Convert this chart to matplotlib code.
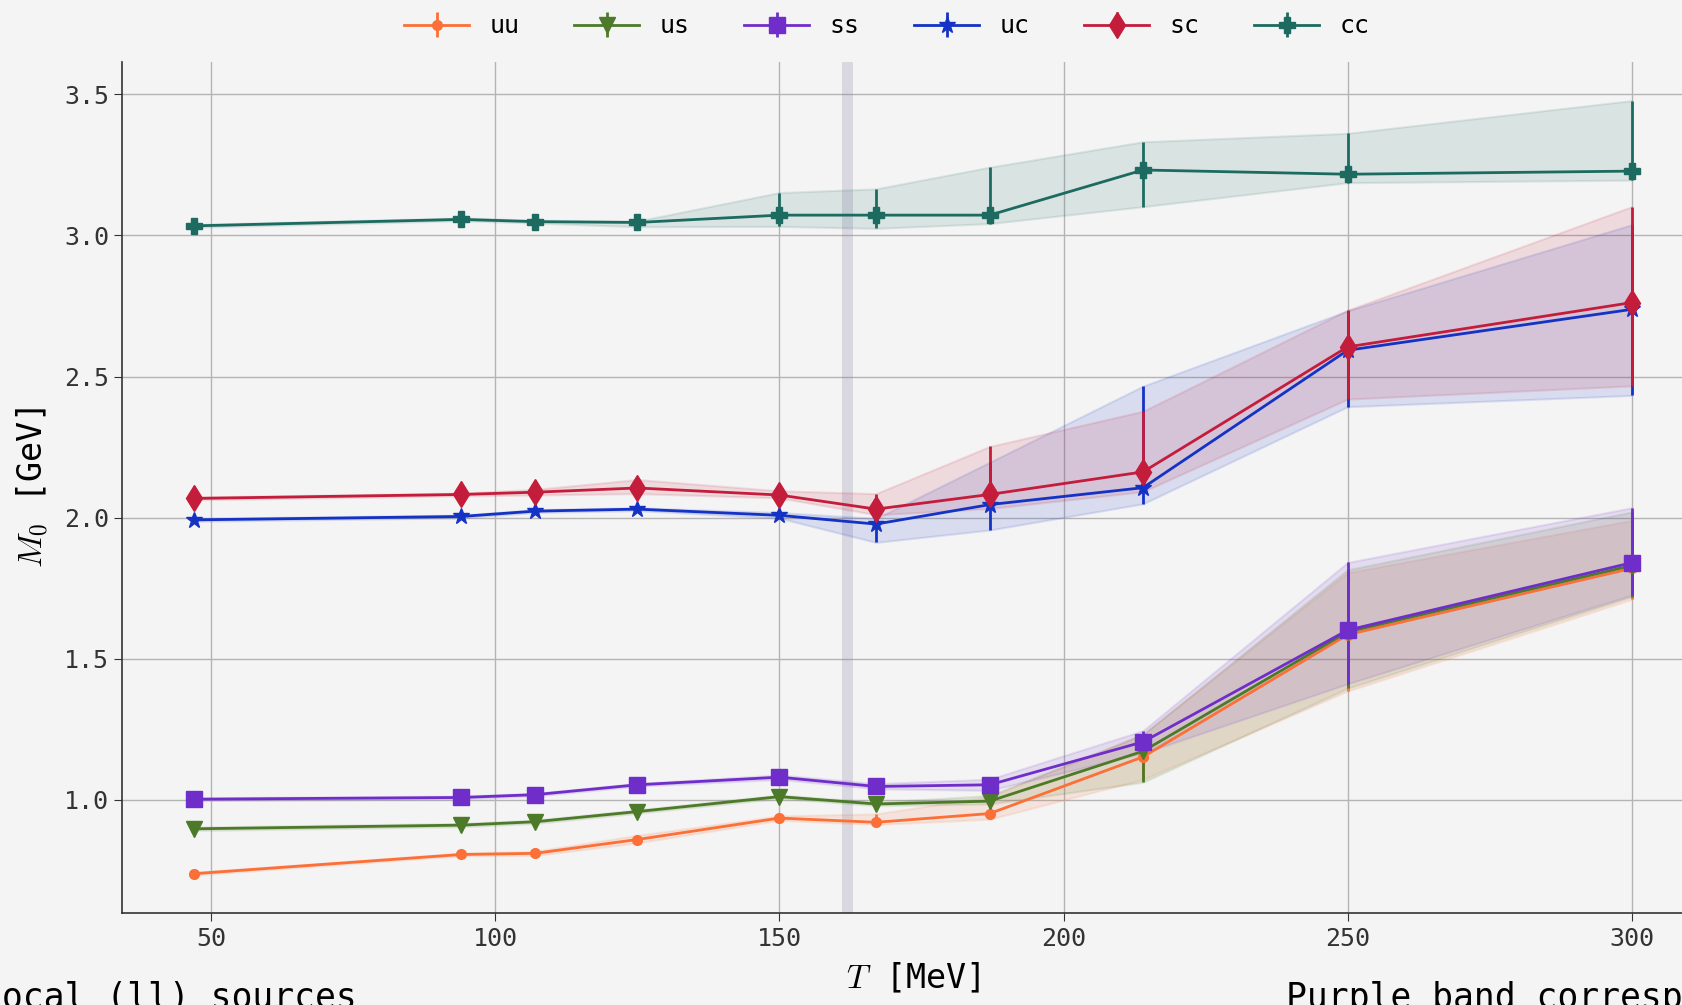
import numpy as np
import matplotlib.pyplot as plt

plt.rcParams['font.family'] = ['DejaVu Sans Mono']
plt.rcParams['mathtext.fontset'] = 'cm'

T = np.array([47, 94, 107, 125, 150, 167, 187, 214, 250, 300])

uu = np.array([0.738, 0.806, 0.810, 0.859, 0.935, 0.920, 0.951, 1.152, 1.585, 1.820])
uu_lo = np.array([0.005, 0.005, 0.008, 0.012, 0.008, 0.008, 0.02, 0.08, 0.20, 0.11])
uu_hi = np.array([0.005, 0.005, 0.008, 0.015, 0.008, 0.03, 0.06, 0.08, 0.22, 0.17])

us = np.array([0.897, 0.910, 0.922, 0.958, 1.011, 0.985, 0.995, 1.172, 1.595, 1.830])
us_lo = np.array([0.006, 0.006, 0.006, 0.006, 0.006, 0.006, 0.01, 0.11, 0.20, 0.11])
us_hi = np.array([0.006, 0.006, 0.006, 0.006, 0.006, 0.006, 0.02, 0.06, 0.22, 0.19])

ss = np.array([1.002, 1.008, 1.018, 1.053, 1.080, 1.047, 1.053, 1.205, 1.601, 1.840])
ss_lo = np.array([0.005, 0.005, 0.005, 0.005, 0.008, 0.008, 0.02, 0.04, 0.19, 0.115])
ss_hi = np.array([0.005, 0.005, 0.005, 0.005, 0.008, 0.01, 0.02, 0.04, 0.24, 0.195])

uc = np.array([1.992, 2.004, 2.023, 2.030, 2.008, 1.977, 2.046, 2.106, 2.593, 2.738])
uc_lo = np.array([0.005, 0.005, 0.005, 0.005, 0.01, 0.065, 0.09, 0.057, 0.20, 0.305])
uc_hi = np.array([0.005, 0.005, 0.005, 0.005, 0.01, 0.02, 0.15, 0.36, 0.14, 0.30])

sc = np.array([2.068, 2.082, 2.090, 2.105, 2.080, 2.030, 2.082, 2.162, 2.605, 2.762])
sc_lo = np.array([0.005, 0.005, 0.01, 0.02, 0.01, 0.02, 0.05, 0.07, 0.185, 0.295])
sc_hi = np.array([0.005, 0.005, 0.01, 0.03, 0.015, 0.055, 0.17, 0.215, 0.13, 0.34])

cc = np.array([3.034, 3.057, 3.049, 3.046, 3.072, 3.072, 3.072, 3.232, 3.217, 3.228])
cc_lo = np.array([0.005, 0.005, 0.005, 0.015, 0.04, 0.047, 0.03, 0.13, 0.03, 0.032])
cc_hi = np.array([0.005, 0.005, 0.005, 0.005, 0.08, 0.093, 0.17, 0.10, 0.145, 0.25])

series = [
    ('uu', uu, uu_lo, uu_hi, '#fc6f36', 'o', 7),
    ('us', us, us_lo, us_hi, '#4c7a29', 'v', 12),
    ('ss', ss, ss_lo, ss_hi, '#6f2ec9', 's', 11),
    ('uc', uc, uc_lo, uc_hi, '#1432c4', '*', 12),
    ('sc', sc, sc_lo, sc_hi, '#c41c3b', 'd', 13),
    ('cc', cc, cc_lo, cc_hi, '#1d6b60', 'P', 11),
]

bg = '#f4f4f4'
fig = plt.figure(figsize=(16.83, 10.05), dpi=100, facecolor=bg)
ax = fig.add_axes([0.0727, 0.0911, 0.9395, 0.847])
ax.set_facecolor(bg)

# band around the pseudo-critical temperature
ax.axvspan(161, 163, color='#8a82a6', alpha=0.25, lw=0, zorder=1)

handles = []
for name, y, lo, hi, c, m, ms in series:
    ax.fill_between(T, y - lo, y + hi, color=c, alpha=0.12, lw=1.5, zorder=2)
    h = ax.errorbar(T, y, yerr=[lo, hi], color=c, marker=m, markersize=ms,
                    linewidth=2, elinewidth=2, capsize=0, label=name, zorder=3)
    handles.append(h)

ax.set_xlim(34.35, 312.65)
ax.set_ylim(0.597, 3.614)
ax.set_xticks([50, 100, 150, 200, 250, 300])
ax.set_yticks([1.0, 1.5, 2.0, 2.5, 3.0, 3.5])
ax.set_yticklabels(['1.0', '1.5', '2.0', '2.5', '3.0', '3.5'])
ax.grid(True, color='#b4b4b4', linewidth=1)
ax.set_axisbelow(True)
for s in ['top', 'right']:
    ax.spines[s].set_visible(False)
for s in ['left', 'bottom']:
    ax.spines[s].set_color('#333333')
    ax.spines[s].set_linewidth(1.2)
ax.tick_params(labelsize=18, colors='#333333', length=6)

ax.set_xlabel('$T$ [MeV]', fontsize=24, labelpad=8)
ax.set_ylabel('$M_0$ [GeV]', fontsize=24, labelpad=10)

fig.legend(handles=handles, loc='upper center', bbox_to_anchor=(0.527, 1.008),
           ncol=6, frameon=False, fontsize=18, handlelength=2.6, columnspacing=2.2)

fig.text(-0.0113, -0.003, 'Local (ll) sources', fontsize=25, va='baseline', ha='left')
fig.text(0.764, -0.003, 'Purple band corresponds to the pseudo-critical temperature',
         fontsize=25, va='baseline', ha='left')

fig.savefig('out.png', dpi=100, facecolor=bg)
